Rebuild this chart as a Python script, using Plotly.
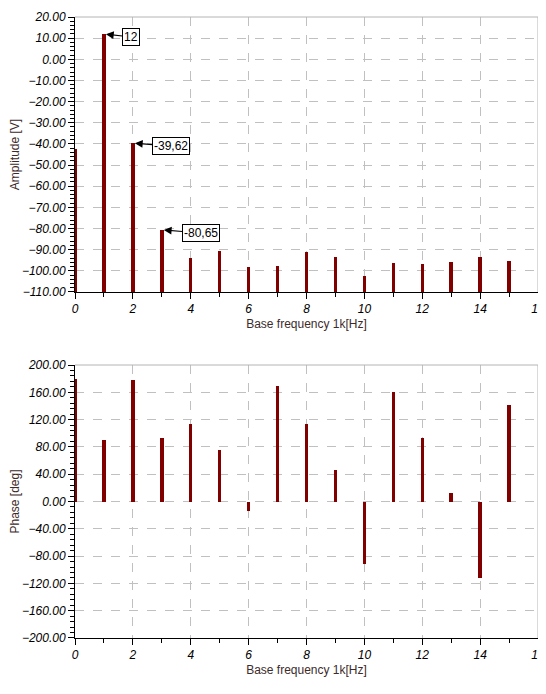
import plotly.graph_objects as go
from plotly.subplots import make_subplots

freq = [0, 1, 2, 3, 4, 5, 6, 7, 8, 9, 10, 11, 12, 13, 14, 15]
amplitude = [-42.4, 12, -39.62, -80.65, -93.8, -90.5, -98, -97.6, -91.1, -93.3, -102.5, -96.3, -96.8, -95.8, -93.3, -95.2]
phase = [180, 90, 178.6, 93, 113, 75, -13.6, 169, 114, 45.7, -91, 161, 92.5, 12, -111.5, 142]
amp_floor = -110

# labelled peaks: (index, label, box offset in px)
marked = [(1, "12", 27), (2, "-39,62", 38), (3, "-80,65", 39)]

bar_col = "#800000"
title_col = "#3d2b2b"
font_main = "Liberation Sans, Arial, sans-serif"

fig = make_subplots(rows=2, cols=1, vertical_spacing=0.1176)

fig.add_trace(go.Bar(
    x=freq, y=[a - amp_floor for a in amplitude], base=amp_floor,
    width=0.12, marker=dict(color=bar_col, line=dict(width=0)),
), row=1, col=1)

fig.add_trace(go.Bar(
    x=freq, y=phase, base=0,
    width=0.12, marker=dict(color=bar_col, line=dict(width=0)),
), row=2, col=1)

for idx, label, dx in marked:
    fig.add_annotation(
        x=freq[idx], y=amplitude[idx], xref="x", yref="y",
        text=label, showarrow=True, ax=dx, ay=3,
        arrowhead=2, arrowsize=1.3, arrowwidth=1.2, arrowcolor="black",
        standoff=2,
        bordercolor="black", borderwidth=1, borderpad=1, bgcolor="white",
        font=dict(family=font_main, size=12, color="black"),
    )

axis_common = dict(
    showline=True, linecolor="black", linewidth=1,
    ticks="outside", ticklen=6, tickcolor="black",
    showgrid=True, gridcolor="#c0c0c0", griddash="dash", gridwidth=1,
    zeroline=False, automargin=False, ticklabeloverflow="allow",
    tickfont=dict(family=font_main, size=12, color="black", style="italic"),
)

for r in (1, 2):
    fig.update_xaxes(
        range=[0, 16], dtick=2, tick0=0,
        minor=dict(dtick=1, ticklen=4, ticks="outside", tickcolor="black", showgrid=False),
        title=dict(text="Base frequency 1k[Hz]", standoff=4,
                   font=dict(family=font_main, size=12, color=title_col)),
        row=r, col=1, **axis_common)

fig.update_yaxes(
    range=[-110, 20], dtick=10, tick0=0, tickformat=".2f",
    minor=dict(dtick=2, ticklen=4, ticks="outside", tickcolor="black", showgrid=False),
    title=dict(text="Amplitude [V]", standoff=6,
               font=dict(family=font_main, size=12, color=title_col)),
    row=1, col=1, **axis_common)

fig.update_yaxes(
    range=[-200, 200], dtick=40, tick0=0, tickformat=".2f",
    minor=dict(dtick=8, ticklen=4, ticks="outside", tickcolor="black", showgrid=False),
    title=dict(text="Phase [deg]", standoff=6,
               font=dict(family=font_main, size=12, color=title_col)),
    row=2, col=1, **axis_common)

# light grey top/right frame
for xr, yr in (("x domain", "y domain"), ("x2 domain", "y2 domain")):
    fig.add_shape(type="line", xref=xr, yref=yr, x0=0, x1=1, y0=1, y1=1,
                  line=dict(color="#b4b4b4", width=1))
    fig.add_shape(type="line", xref=xr, yref=yr, x0=1, x1=1, y0=0, y1=1,
                  line=dict(color="#b4b4b4", width=1))

# page body adds an 8px margin, so the figure is sized to fit inside it
fig.update_layout(
    width=538, height=670,
    margin=dict(l=67, r=8, t=9, b=40),
    plot_bgcolor="white", paper_bgcolor="white",
    showlegend=False, bargap=0,
    font=dict(family=font_main, size=12, color="black"),
)
fig.update_layout(yaxis=dict(domain=[0.5572, 1.0]), yaxis2=dict(domain=[0.0, 0.4396]))

fig.write_html("out.html")
